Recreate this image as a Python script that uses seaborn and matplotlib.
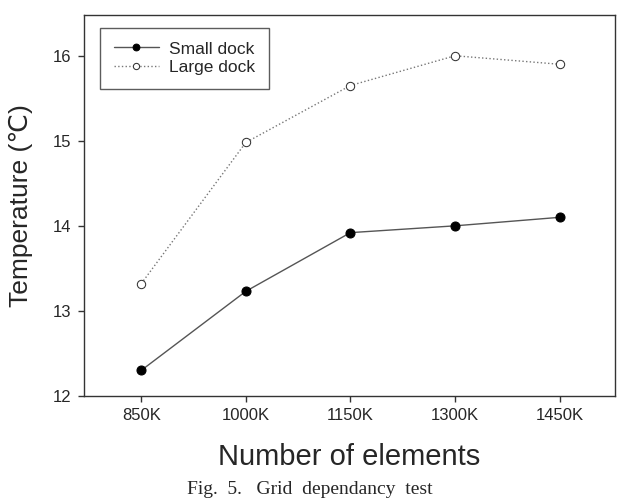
import pandas as pd
import matplotlib.pyplot as plt
import seaborn as sns

# --- Data ---
elements = ["850K", "1000K", "1150K", "1300K", "1450K"]
small_dock = [12.30, 13.23, 13.92, 14.00, 14.10]
large_dock = [13.32, 14.98, 15.65, 16.00, 15.90]

sns.set_style("ticks")
plt.rcParams["font.family"] = ["Liberation Sans", "DejaVu Sans"]

fig = plt.figure(figsize=(6.2, 4.98), dpi=100)
ax = fig.add_axes([0.135, 0.205, 0.857, 0.765])

sns.lineplot(x=elements, y=small_dock, ax=ax, color="#555555", lw=1,
             marker="o", markersize=6.5, markerfacecolor="black",
             markeredgecolor="black", label="Small dock", sort=False)
sns.lineplot(x=elements, y=large_dock, ax=ax, color="#777777", lw=1,
             linestyle=":", marker="o", markersize=6, markerfacecolor="white",
             markeredgecolor="#333333", label="Large dock", sort=False)

ax.set_xlim(-0.55, 4.53)
ax.set_ylim(12, 16.48)
ax.set_yticks([12, 13, 14, 15, 16])
ax.tick_params(labelsize=12, length=4, width=1, color="#333333", pad=5)
for s in ax.spines.values():
    s.set_color("#333333")
    s.set_linewidth(1)

ax.set_xlabel("Number of elements", fontsize=21, labelpad=14)
ax.set_ylabel("Temperature (℃)", fontsize=19, labelpad=14)

leg = ax.legend(loc="upper left", fontsize=12.5, frameon=True, fancybox=False,
                edgecolor="#333333", borderpad=0.8, handlelength=2.6,
                labelspacing=0.2, markerscale=0.75, handletextpad=0.6,
                borderaxespad=0, bbox_to_anchor=(0.03, 0.967))
leg.get_frame().set_linewidth(1)

fig.text(0.5, 0.0, "Fig.  5.   Grid  dependancy  test", ha="center",
         va="bottom", fontsize=14, family=["Liberation Serif", "DejaVu Serif"])

plt.savefig("out.png", dpi=100)
